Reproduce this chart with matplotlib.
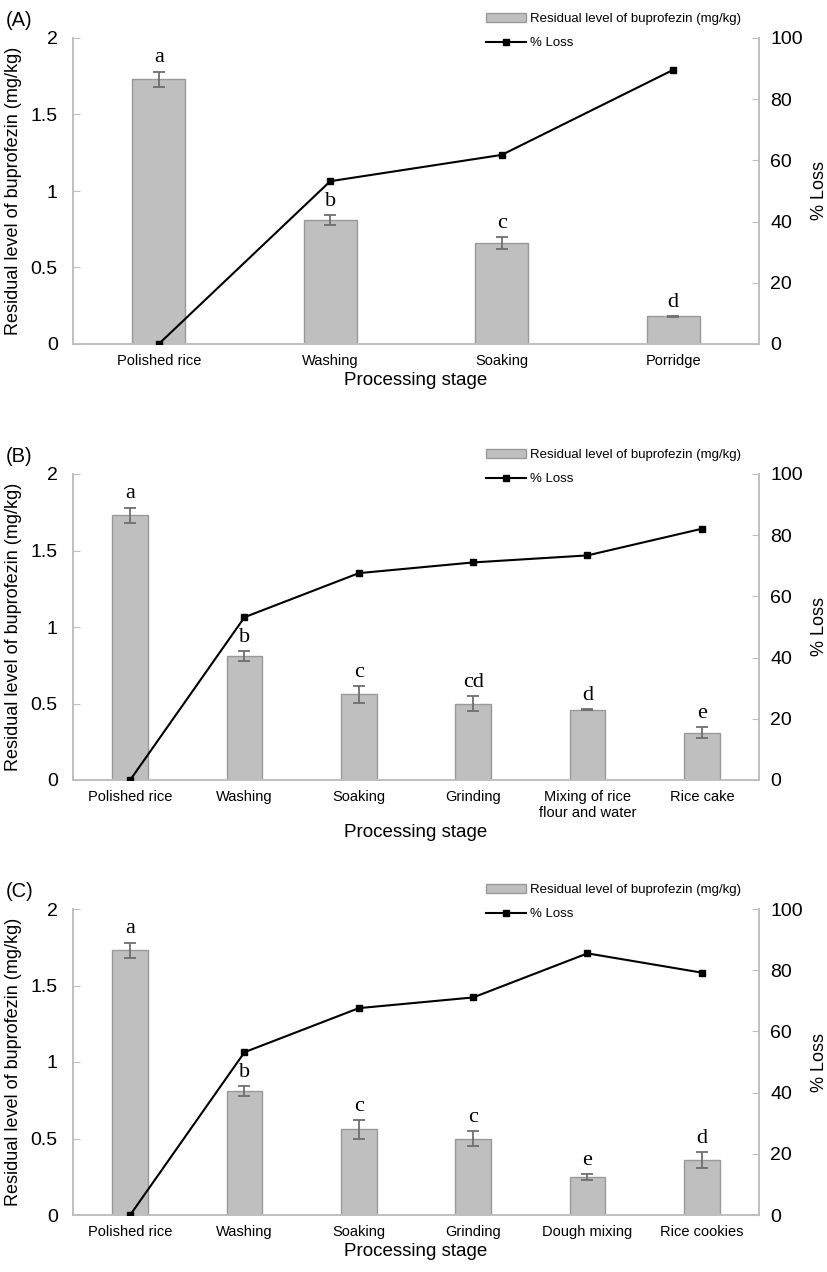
import numpy as np
import matplotlib
matplotlib.use("Agg")
import matplotlib.pyplot as plt

plt.rcParams['font.family'] = ['Liberation Sans', 'DejaVu Sans']

# Panel A: porridge
stages_a = ['Polished rice', 'Washing', 'Soaking', 'Porridge']
resid_a = [1.73, 0.81, 0.66, 0.18]
err_a = [0.05, 0.03, 0.04, 0.005]
loss_a = [0, 53.2, 61.8, 89.6]
letters_a = ['a', 'b', 'c', 'd']

# Panel B: rice cake
stages_b = ['Polished rice', 'Washing', 'Soaking', 'Grinding',
            'Mixing of rice\nflour and water', 'Rice cake']
resid_b = [1.73, 0.81, 0.56, 0.50, 0.46, 0.31]
err_b = [0.05, 0.03, 0.055, 0.05, 0.004, 0.035]
loss_b = [0, 53.2, 67.6, 71.1, 73.4, 82.1]
letters_b = ['a', 'b', 'c', 'cd', 'd', 'e']

# Panel C: rice cookies
stages_c = ['Polished rice', 'Washing', 'Soaking', 'Grinding',
            'Dough mixing', 'Rice cookies']
resid_c = [1.73, 0.81, 0.56, 0.50, 0.25, 0.36]
err_c = [0.05, 0.03, 0.06, 0.05, 0.02, 0.05]
loss_c = [0, 53.2, 67.6, 71.1, 85.5, 79.2]
letters_c = ['a', 'b', 'c', 'c', 'e', 'd']

GRAY = '#BFBFBF'


def draw_panel(ax, tag, stages, resid, err, loss, letters):
    x = np.arange(len(stages))
    bars = ax.bar(x, resid, width=0.31, color='#BFBFBF', edgecolor='#999999',
                  linewidth=1.0, label='Residual level of buprofezin (mg/kg)', zorder=2)
    ax.errorbar(x, resid, yerr=err, fmt='none', ecolor='#6E6E6E',
                elinewidth=1.3, capsize=4, capthick=1.3, zorder=3)
    for xi, r, e, t in zip(x, resid, err, letters):
        ax.annotate(t, (xi, r + e), xytext=(0, 3), textcoords='offset points',
                    ha='center', va='bottom', fontsize=16, family='Liberation Serif')
    ax.set_xlim(-0.5, len(stages) - 0.5)
    ax.set_ylim(0, 2)
    ax.set_yticks([0, 0.5, 1, 1.5, 2])
    ax.set_yticklabels(['0', '0.5', '1', '1.5', '2'])
    ax.set_xticks(x)
    ax.set_xticklabels(stages, fontsize=10.5)
    ax.set_xlabel('Processing stage', fontsize=13.5, labelpad=3)
    ax.set_ylabel('Residual level of buprofezin (mg/kg)', fontsize=13, labelpad=6)
    ax.tick_params(axis='y', direction='in', length=5, color=GRAY, labelsize=14, pad=11)
    ax.tick_params(axis='x', length=0, pad=7)

    ax2 = ax.twinx()
    line, = ax2.plot(x, loss, color='black', lw=1.5, marker='s', markersize=4,
                     label='% Loss', zorder=4)
    ax2.set_ylim(0, 100)
    ax2.set_yticks([0, 20, 40, 60, 80, 100])
    ax2.set_ylabel('% Loss', fontsize=13, labelpad=6)
    ax2.tick_params(axis='y', direction='in', length=5, color=GRAY, labelsize=14, pad=8)

    for a in (ax, ax2):
        a.spines['top'].set_visible(False)
        for s in ('left', 'right', 'bottom'):
            a.spines[s].set_color(GRAY)
            a.spines[s].set_linewidth(1.2)

    ax.legend([bars, line], ['Residual level of buprofezin (mg/kg)', '% Loss'],
              loc='upper left', bbox_to_anchor=(0.585, 1.12), frameon=False,
              fontsize=9.5, handlelength=3.0, handleheight=0.6,
              labelspacing=0.9, handletextpad=0.3)
    ax.text(-0.098, 1.025, tag, transform=ax.transAxes, fontsize=14.5,
            ha='left', va='bottom')


fig = plt.figure(figsize=(8.27, 12.72), dpi=100)
left, width, height = 73 / 827, 686 / 827, 306 / 1272
ax_a = fig.add_axes([left, 1 - 344 / 1272, width, height])
ax_b = fig.add_axes([left, 1 - 780 / 1272, width, height])
ax_c = fig.add_axes([left, 1 - 1215 / 1272, width, height])

draw_panel(ax_a, '(A)', stages_a, resid_a, err_a, loss_a, letters_a)
draw_panel(ax_b, '(B)', stages_b, resid_b, err_b, loss_b, letters_b)
draw_panel(ax_c, '(C)', stages_c, resid_c, err_c, loss_c, letters_c)

fig.savefig('out.png', dpi=100)
